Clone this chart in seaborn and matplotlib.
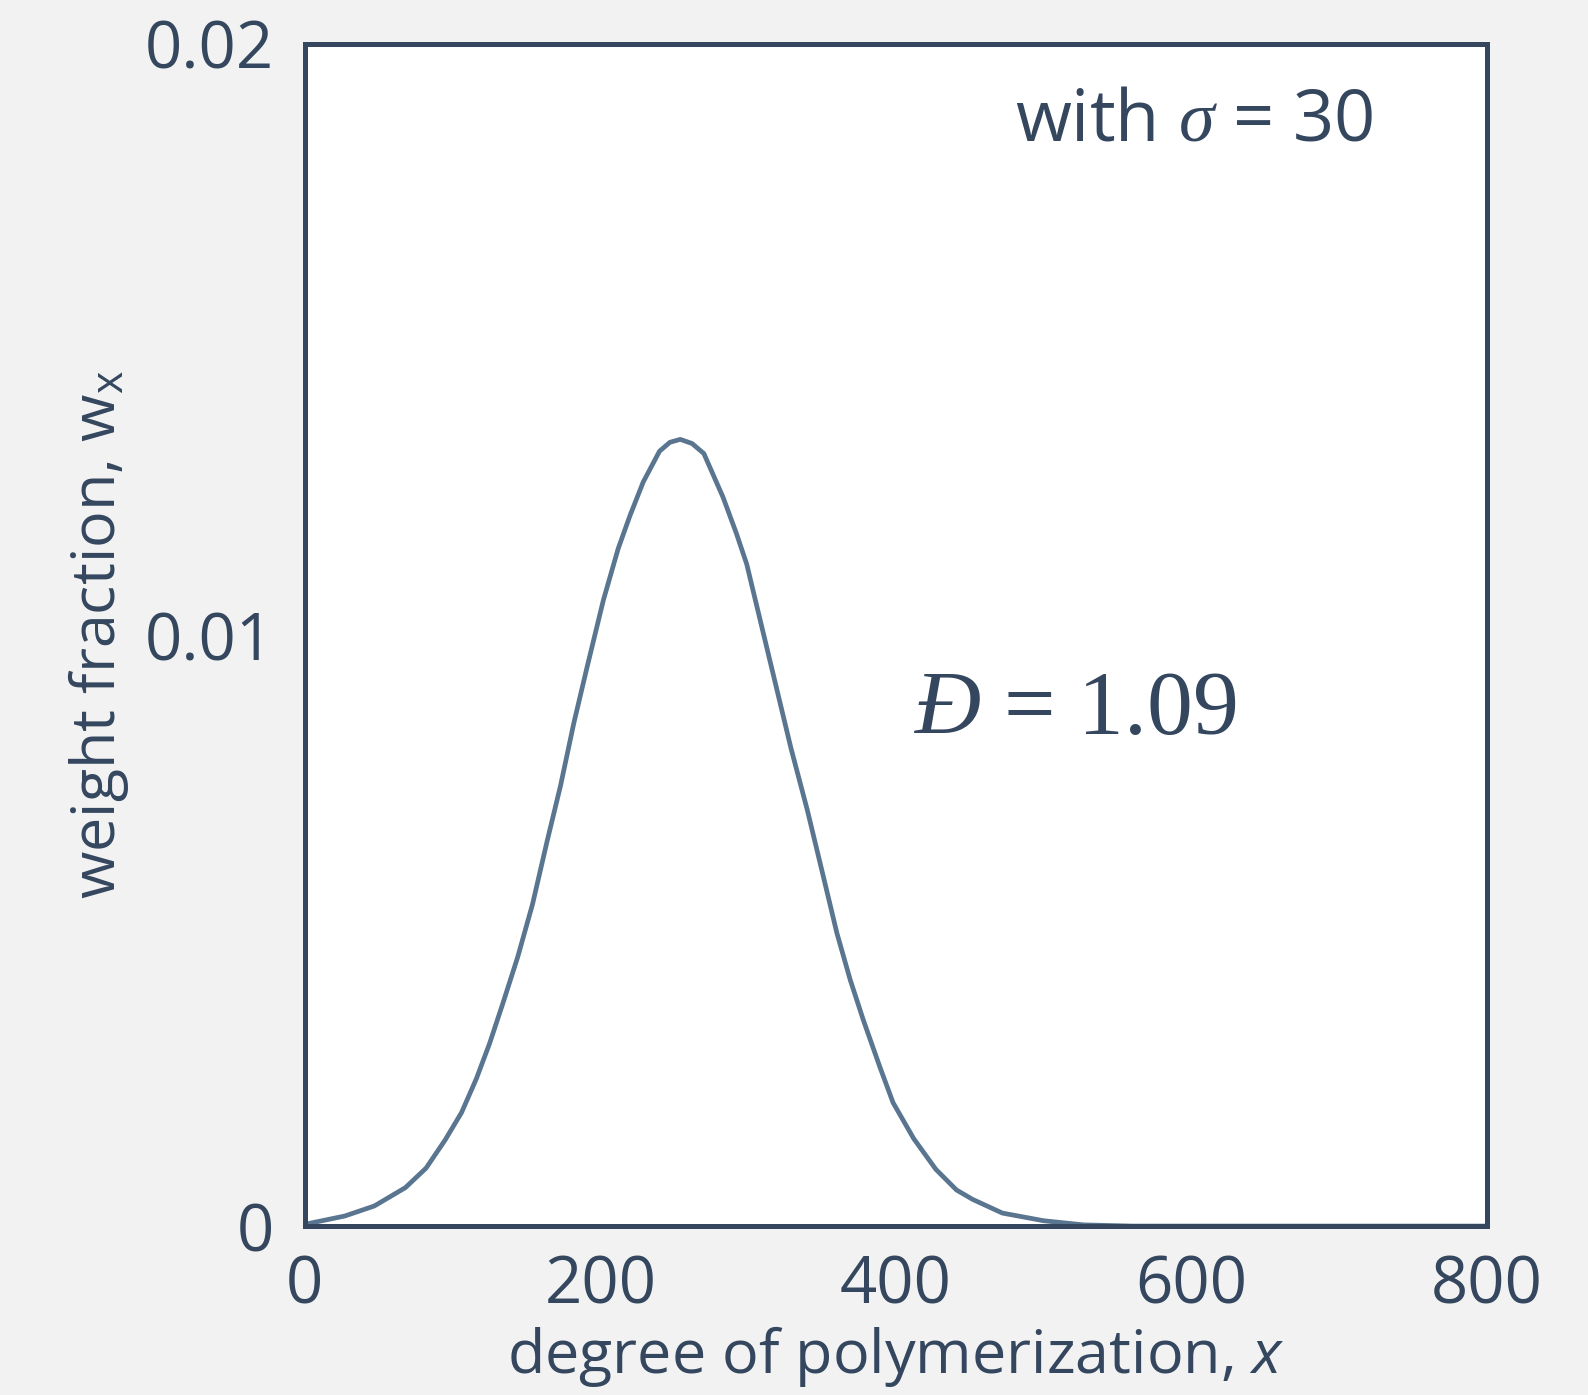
import numpy as np
import pandas as pd
import matplotlib
matplotlib.use("Agg")
import matplotlib.pyplot as plt
import seaborn as sns

# curve
dp = [0, 27, 47, 68, 82, 95, 106, 116, 125, 134, 144, 154, 164, 173, 182,
      191, 202, 212, 220, 229, 240, 247, 254, 262, 270, 283, 292, 299, 309,
      319, 329, 340, 351, 360, 369, 378, 389, 398, 412, 427, 441, 452, 472,
      500, 527, 560, 800]
wx = [0.00003, 0.00017, 0.00034, 0.00065, 0.00098, 0.00146, 0.00192, 0.00249,
      0.00309, 0.00377, 0.00455, 0.00544, 0.00652, 0.00745, 0.00851, 0.00946,
      0.01059, 0.01146, 0.01202, 0.01259, 0.01311, 0.01326, 0.01331, 0.01324,
      0.01307, 0.01233, 0.01172, 0.01120, 0.01016, 0.00912, 0.00808, 0.00704,
      0.00590, 0.00496, 0.00417, 0.00348, 0.00270, 0.00209, 0.00148, 0.00096,
      0.00061, 0.00045, 0.00022, 0.00009, 0.00002, 0.0, 0.0]

xticks = [0, 200, 400, 600, 800]
yticks = [0, 0.01, 0.02]
ytick_labels = ["0", "0.01", "0.02"]

df = pd.DataFrame({"x": dp, "w": wx})

dark = "#34475e"
line_col = "#5a7590"

sns.set_style("white")
plt.rcParams["font.family"] = ["Open Sans", "DejaVu Sans"]
plt.rcParams["mathtext.fontset"] = "custom"
plt.rcParams["mathtext.rm"] = "Open Sans"
plt.rcParams["mathtext.sf"] = "Open Sans:italic"
plt.rcParams["mathtext.it"] = "Liberation Serif:italic"
plt.rcParams["text.color"] = dark

fig = plt.figure(figsize=(15.88, 13.95), dpi=100, facecolor="#f2f2f2")
ax = fig.add_axes([0.192, 0.1211, 0.7444, 0.8474])
ax.set_facecolor("white")

sns.lineplot(data=df, x="x", y="w", ax=ax, color=line_col, linewidth=3.4)

ax.set_xlim(0, 800)
ax.set_ylim(0, 0.02)
ax.set_xticks(xticks)
ax.set_xticklabels([str(t) for t in xticks])
ax.set_yticks(yticks)
ax.set_yticklabels(ytick_labels)

for s in ax.spines.values():
    s.set_color(dark)
    s.set_linewidth(3.6)

ax.tick_params(axis="both", direction="out", length=14, width=3.6,
               color=dark, labelcolor=dark, labelsize=47)
ax.tick_params(axis="x", pad=6)
ax.tick_params(axis="y", pad=8)

ax.set_xlabel(r"degree of polymerization, $\mathsf{x}$", fontsize=44, color=dark)
ax.set_ylabel(r"weight fraction, w$_\mathrm{x}$", fontsize=44, color=dark)
ax.xaxis.set_label_coords(0.5, -0.083)
ax.yaxis.set_label_coords(-0.147, 0.5)

ax.text(602, 0.01868, r"with $\sigma$ = 30", fontsize=52, color=dark,
        ha="center", va="center")
ax.text(521, 0.0087, r"$Đ$ = 1.09", fontsize=66, color=dark,
        family="Liberation Serif", ha="center", va="center")

fig.savefig("out.png", dpi=100, facecolor=fig.get_facecolor())
